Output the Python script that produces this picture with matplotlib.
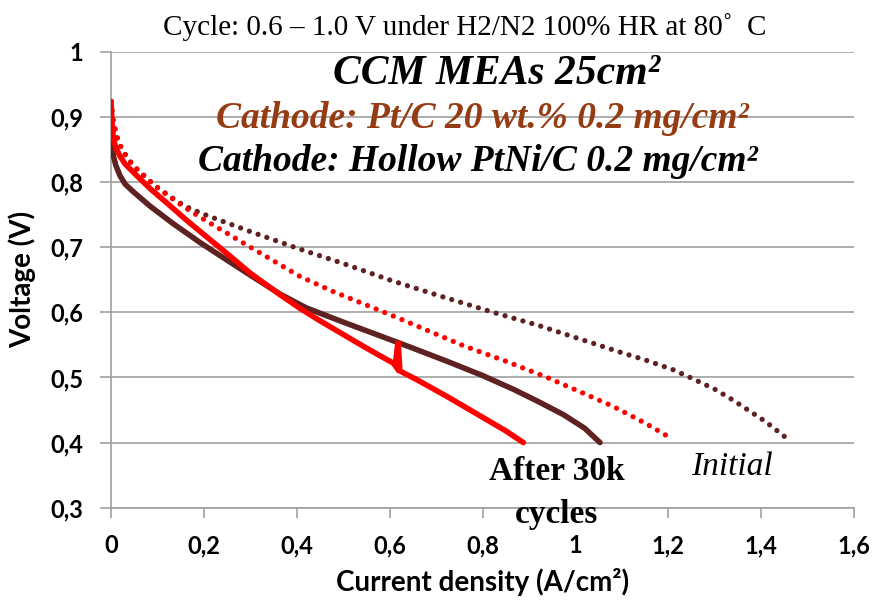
import matplotlib
matplotlib.use("Agg")
import matplotlib.pyplot as plt
from matplotlib.ticker import FixedLocator

# ---- data ----
x_pt_after = [0, 0.002, 0.005, 0.01, 0.019, 0.03, 0.048, 0.084, 0.12, 0.16, 0.192, 0.25, 0.3, 0.364,
              0.407, 0.45, 0.5, 0.543, 0.58, 0.608, 0.612, 0.618, 0.622, 0.66, 0.723, 0.795, 0.85, 0.888]
y_pt_after = [0.92, 0.89, 0.866, 0.853, 0.84, 0.828, 0.815, 0.79, 0.768, 0.743, 0.724, 0.69, 0.66, 0.627,
              0.606, 0.587, 0.566, 0.548, 0.533, 0.522, 0.518, 0.556, 0.51, 0.496, 0.471, 0.441, 0.418, 0.40]

x_ptni_after = [0, 0.002, 0.005, 0.01, 0.019, 0.03, 0.048, 0.084, 0.134, 0.192, 0.25, 0.3, 0.364,
                0.42, 0.5, 0.579, 0.65, 0.723, 0.8, 0.866, 0.92, 0.974, 1.02, 1.053]
y_ptni_after = [0.87, 0.855, 0.84, 0.826, 0.81, 0.797, 0.785, 0.763, 0.736, 0.707, 0.68, 0.657, 0.628,
                0.607, 0.585, 0.564, 0.545, 0.525, 0.503, 0.482, 0.463, 0.443, 0.422, 0.40]

x_ptni_init = [0, 0.003, 0.009, 0.015, 0.023, 0.034, 0.048, 0.066, 0.095, 0.127, 0.159, 0.198, 0.3,
               0.407, 0.5, 0.607, 0.7, 0.823, 0.92, 1.01, 1.1, 1.15, 1.21, 1.25, 1.3, 1.34, 1.41, 1.458]
y_ptni_init = [0.924, 0.90, 0.88, 0.863, 0.851, 0.838, 0.825, 0.813, 0.794, 0.778, 0.763, 0.751, 0.724,
               0.697, 0.675, 0.648, 0.627, 0.60, 0.58, 0.559, 0.538, 0.527, 0.512, 0.499, 0.482, 0.465,
               0.432, 0.405]

x_pt_init = [0, 0.003, 0.009, 0.015, 0.023, 0.034, 0.048, 0.066, 0.095, 0.127, 0.159, 0.192, 0.3,
             0.407, 0.478, 0.616, 0.758, 0.85, 0.939, 1.01, 1.08, 1.15, 1.21]
y_pt_init = [0.924, 0.90, 0.88, 0.863, 0.851, 0.838, 0.825, 0.813, 0.794, 0.777, 0.761, 0.746, 0.70,
             0.655, 0.632, 0.592, 0.549, 0.525, 0.50, 0.478, 0.456, 0.43, 0.405]

x_ticks = [0, 0.2, 0.4, 0.6, 0.8, 1.0, 1.2, 1.4, 1.6]
x_tick_labels = ["0", "0,2", "0,4", "0,6", "0,8", "1", "1,2", "1,4", "1,6"]
y_ticks = [0.3, 0.4, 0.5, 0.6, 0.7, 0.8, 0.9, 1.0]
y_tick_labels = ["0,3", "0,4", "0,5", "0,6", "0,7", "0,8", "0,9", "1"]

RED = "#FF0000"
DARK = "#5E2222"
BROWN = "#963C14"
GRID = "#A0A0A0"

fig = plt.figure(figsize=(8.75, 6.03), dpi=100)
ax = fig.add_axes([0.127, 0.158, 0.849, 0.756])

dot = (0, (0.01, 1.75))
ax.plot(x_ptni_init, y_ptni_init, color=DARK, lw=3.8, linestyle=dot, dash_capstyle="round", zorder=3)
ax.plot(x_pt_init, y_pt_init, color=RED, lw=3.8, linestyle=dot, dash_capstyle="round", zorder=3)
ax.plot(x_ptni_after, y_ptni_after, color=DARK, lw=4.0, solid_capstyle="round",
        solid_joinstyle="round", zorder=4)
ax.plot(x_pt_after, y_pt_after, color=RED, lw=4.0, solid_capstyle="round",
        solid_joinstyle="miter", zorder=5)

ax.set_xlim(0, 1.6)
ax.set_ylim(0.3, 1.0)
ax.xaxis.set_major_locator(FixedLocator(x_ticks))
ax.yaxis.set_major_locator(FixedLocator(y_ticks))
tick_font = dict(family="Lato", weight="bold", size=17)
ax.set_xticklabels(x_tick_labels, fontdict=tick_font)
ax.set_yticklabels(y_tick_labels, fontdict=tick_font)
ax.tick_params(axis="x", length=7, color=GRID, width=1.2, direction="out", pad=12)
ax.tick_params(axis="y", length=8, color=GRID, width=1.2, direction="out", pad=12)
ax.grid(axis="y", color=GRID, lw=1.2)
ax.set_axisbelow(True)
for s in ["top", "right"]:
    ax.spines[s].set_visible(False)
for s in ["left", "bottom"]:
    ax.spines[s].set_color(GRID)
    ax.spines[s].set_linewidth(1.2)

ax.set_xlabel("Current density (A/cm²)", fontdict=dict(family="Lato", weight="bold", size=20), labelpad=8)
ax.set_ylabel("Voltage (V)", fontdict=dict(family="Lato", weight="bold", size=20), labelpad=10)

fig.text(0.531, 0.955, "Cycle: 0.6 – 1.0 V under H2/N2 100% HR at 80˚  C",
         family="Liberation Serif", size=21, ha="center", va="center")

serif_bi = dict(family="Liberation Serif", weight="bold", style="italic", ha="center", va="center")
ax.text(0.831, 0.966, "CCM MEAs 25cm²", color="black", size=30, **serif_bi)
ax.text(0.80, 0.897, "Cathode: Pt/C 20 wt.% 0.2 mg/cm²", color=BROWN, size=27, **serif_bi)
ax.text(0.789, 0.832, "Cathode: Hollow PtNi/C 0.2 mg/cm²", color="black", size=27, **serif_bi)

ax.text(0.96, 0.355, "After 30k", family="Liberation Serif", weight="bold", size=24,
        ha="center", va="center", zorder=6)
ax.text(0.96, 0.289, "cycles", family="Liberation Serif", weight="bold", size=24,
        ha="center", va="center", zorder=6)
ax.text(1.337, 0.363, "Initial", family="Liberation Serif", style="italic", size=24,
        ha="center", va="center")

fig.savefig("out.png", dpi=100)
